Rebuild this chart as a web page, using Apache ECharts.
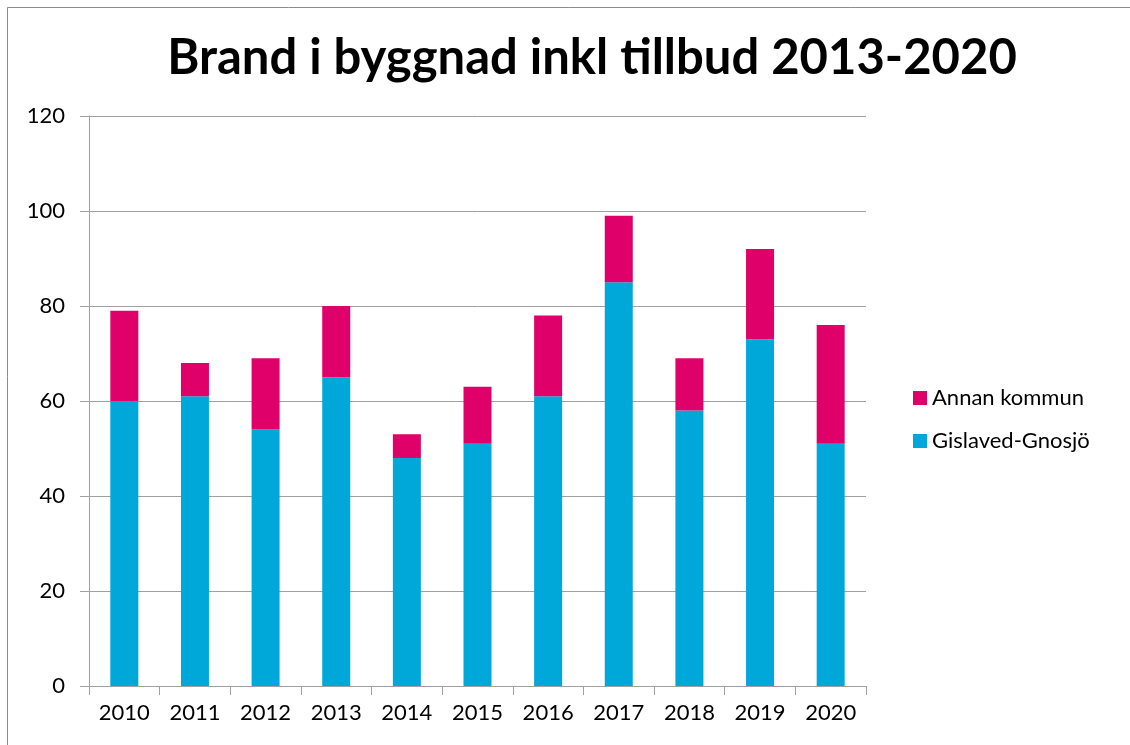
<!DOCTYPE html>
<html>
<head>
<meta charset="utf-8">
<title>Brand i byggnad inkl tillbud 2013-2020</title>
<script src="https://cdn.jsdelivr.net/npm/echarts@6/dist/echarts.min.js"></script>
<style>
  html, body { margin: 0; padding: 0; background: #fff; }
  #chart { width: 1130px; height: 745px; }
</style>
</head>
<body>
<div id="chart"></div>
<script>
// data
const years = ['2010', '2011', '2012', '2013', '2014', '2015', '2016', '2017', '2018', '2019', '2020'];
const gislavedGnosjo = [60, 61, 54, 65, 48, 51, 61, 85, 58, 73, 51];
const annanKommun = [19, 7, 15, 15, 5, 12, 17, 14, 11, 19, 25];

const font = 'Lato, "Open Sans", sans-serif';

const chart = echarts.init(document.getElementById('chart'));
chart.setOption({
  animation: false,
  title: {
    text: 'Brand i byggnad inkl tillbud 2013-2020',
    left: 587,
    top: 29,
    textAlign: 'center',
    textStyle: { fontFamily: font, fontWeight: 'bold', fontSize: 49, color: '#000' }
  },
  // outer frame of the chart area
  graphic: [{
    type: 'rect',
    shape: { x: 7.5, y: 7.5, width: 1140, height: 760 },
    style: { fill: 'none', stroke: '#8c8c8c', lineWidth: 1 },
    silent: true
  }],
  legend: {
    orient: 'vertical',
    left: 908,
    top: 382,
    itemWidth: 14,
    itemHeight: 14,
    itemGap: 21,
    icon: 'rect',
    data: ['Annan kommun', 'Gislaved-Gnosjö'],
    textStyle: { fontFamily: font, fontSize: 22, color: '#000' }
  },
  grid: { left: 89, right: 264, top: 116, bottom: 59, containLabel: false },
  xAxis: {
    type: 'category',
    data: years,
    axisLine: { lineStyle: { color: '#a0a0a0', width: 1 } },
    axisTick: { show: true, alignWithLabel: false, length: 9, lineStyle: { color: '#a0a0a0' } },
    axisLabel: { fontFamily: font, fontSize: 22, color: '#000', margin: 16 }
  },
  yAxis: {
    type: 'value',
    min: 0,
    max: 120,
    interval: 20,
    axisLine: { show: true, lineStyle: { color: '#a0a0a0', width: 1 } },
    axisTick: { show: true, length: 9, lineStyle: { color: '#a0a0a0' } },
    splitLine: { lineStyle: { color: '#a0a0a0', width: 1 } },
    axisLabel: { fontFamily: font, fontSize: 22, color: '#000', margin: 24 }
  },
  series: [
    {
      name: 'Gislaved-Gnosjö',
      type: 'bar',
      stack: 'total',
      data: gislavedGnosjo,
      barWidth: 28,
      itemStyle: { color: '#00a8da' }
    },
    {
      name: 'Annan kommun',
      type: 'bar',
      stack: 'total',
      data: annanKommun,
      barWidth: 28,
      itemStyle: { color: '#e0006a' }
    }
  ]
});
</script>
</body>
</html>
